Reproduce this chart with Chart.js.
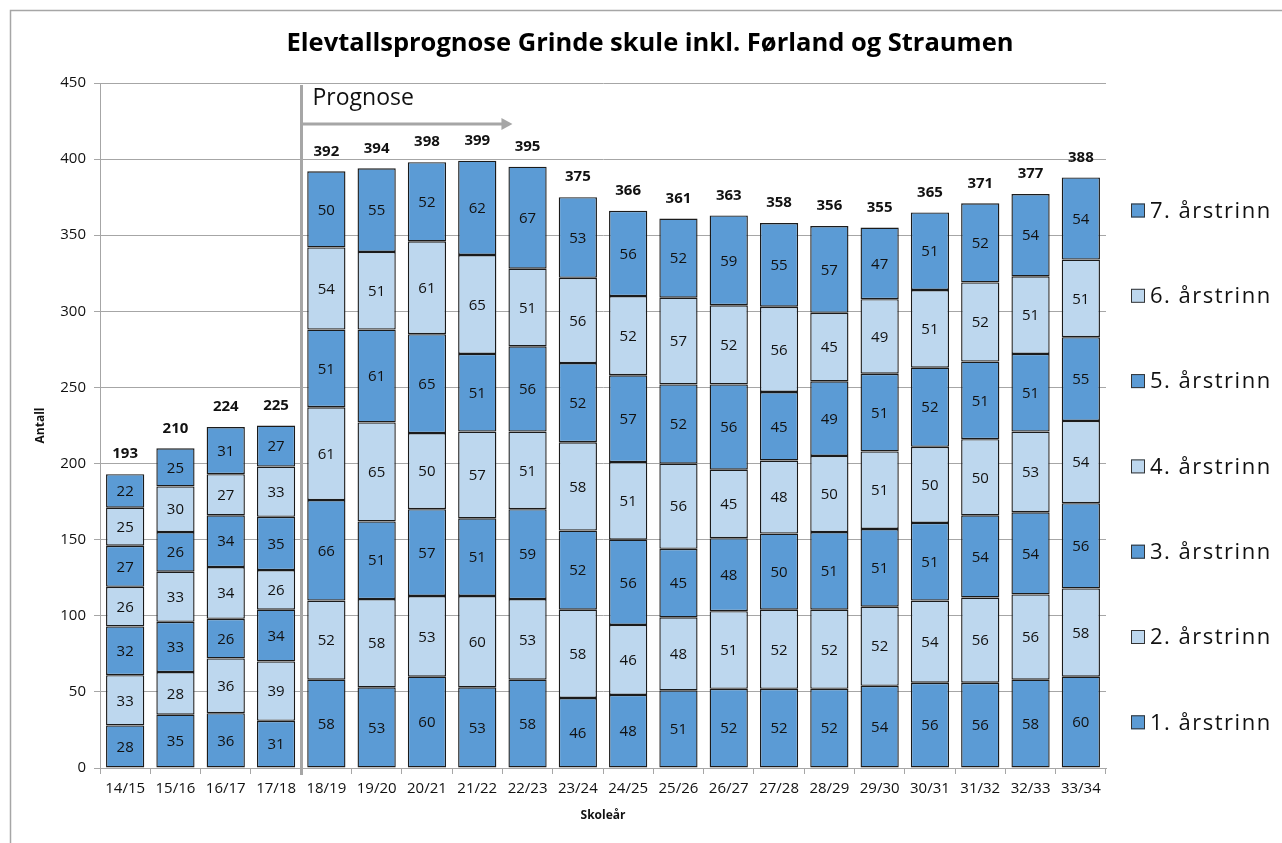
<!DOCTYPE html>
<html>
<head>
<meta charset="utf-8">
<script src="https://cdn.jsdelivr.net/npm/chart.js@4.4.1/dist/chart.umd.min.js"></script>
<style>
html,body{margin:0;padding:0;background:#fff;}
#wrap{width:1282px;height:843px;position:relative;}
</style>
</head>
<body>
<div id="wrap"><canvas id="c" width="1282" height="843"></canvas></div>
<script>
const categories = ['14/15','15/16','16/17','17/18','18/19','19/20','20/21','21/22','22/23','23/24','24/25','25/26','26/27','27/28','28/29','29/30','30/31','31/32','32/33','33/34'];
const trinn1 = [28,35,36,31,58,53,60,53,58,46,48,51,52,52,52,54,56,56,58,60];
const trinn2 = [33,28,36,39,52,58,53,60,53,58,46,48,51,52,52,52,54,56,56,58];
const trinn3 = [32,33,26,34,66,51,57,51,59,52,56,45,48,50,51,51,51,54,54,56];
const trinn4 = [26,33,34,26,61,65,50,57,51,58,51,56,45,48,50,51,50,50,53,54];
const trinn5 = [27,26,34,35,51,61,65,51,56,52,57,52,56,45,49,51,52,51,51,55];
const trinn6 = [25,30,27,33,54,51,61,65,51,56,52,57,52,56,45,49,51,52,51,51];
const trinn7 = [22,25,31,27,50,55,52,62,67,53,56,52,59,55,57,47,51,52,54,54];
const seriesNames = ['1. årstrinn','2. årstrinn','3. årstrinn','4. årstrinn','5. årstrinn','6. årstrinn','7. årstrinn'];
const yTicks = [0,50,100,150,200,250,300,350,400,450];
const prognoseStartIndex = 4; // first prognosis year: 18/19
const prognoseArrowEndIndex = 8; // arrow reaches towards 22/23

const DARK = '#5B9BD5', LIGHT = '#BDD7EE', EDGE = '#1b1b1b';
const FONT = "'Open Sans', Lato, 'Liberation Sans', sans-serif";
const seriesData = [trinn1,trinn2,trinn3,trinn4,trinn5,trinn6,trinn7];

const datasets = seriesData.map((d,i)=>({
  label: seriesNames[i],
  data: d,
  backgroundColor: i%2===0 ? DARK : LIGHT,
  borderColor: EDGE,
  borderWidth: 1.4,
  borderSkipped: false,
  barPercentage: 0.76,
  categoryPercentage: 1.0,
  stack: 's'
}));

const decorPlugin = {
  id: 'decor',
  beforeDraw(chart){
    const ctx = chart.ctx;
    ctx.save();
    ctx.fillStyle = '#fff';
    ctx.fillRect(0,0,chart.width,chart.height);
    ctx.strokeStyle = '#A6A6A6';
    ctx.lineWidth = 1.5;
    ctx.strokeRect(10.5,10.5,chart.width+20,chart.height+20);
    ctx.restore();
  },
  afterDatasetsDraw(chart){
    const ctx = chart.ctx;
    const n = chart.data.datasets.length;
    ctx.save();
    ctx.textAlign = 'center';
    ctx.textBaseline = 'middle';
    ctx.fillStyle = '#111';
    ctx.font = "15px " + FONT;
    for (let d=0; d<n; d++){
      const meta = chart.getDatasetMeta(d);
      meta.data.forEach((bar,i)=>{
        const v = chart.data.datasets[d].data[i];
        ctx.fillText(String(v), bar.x, (bar.y + bar.base)/2 + 1);
      });
    }
    // totals
    ctx.font = "bold 15px " + FONT;
    const top = chart.getDatasetMeta(n-1);
    top.data.forEach((bar,i)=>{
      let sum = 0;
      for (let d=0; d<n; d++) sum += chart.data.datasets[d].data[i];
      ctx.fillText(String(sum), bar.x, bar.y - 20);
    });
    ctx.restore();
  },
  afterDraw(chart){
    const ctx = chart.ctx;
    const xs = chart.scales.x, ys = chart.scales.y;
    const area = chart.chartArea;
    ctx.save();
    // Prognose divider
    const xDiv = Math.round(xs.getPixelForValue(prognoseStartIndex - 0.5)) + 0.5;
    ctx.strokeStyle = '#A6A6A6';
    ctx.lineWidth = 3;
    ctx.beginPath();
    ctx.moveTo(xDiv, area.top + 2);
    ctx.lineTo(xDiv, area.bottom + 7);
    ctx.stroke();
    // arrow
    const yA = ys.getPixelForValue(423);
    const xEnd = xs.getPixelForValue(prognoseArrowEndIndex - 0.3);
    ctx.lineWidth = 3;
    ctx.beginPath();
    ctx.moveTo(xDiv, yA);
    ctx.lineTo(xEnd - 10, yA);
    ctx.stroke();
    ctx.fillStyle = '#A6A6A6';
    ctx.beginPath();
    ctx.moveTo(xEnd, yA);
    ctx.lineTo(xEnd - 11, yA - 6);
    ctx.lineTo(xEnd - 11, yA + 6);
    ctx.closePath();
    ctx.fill();
    // text
    ctx.fillStyle = '#111';
    ctx.font = "23px " + FONT;
    ctx.textAlign = 'left';
    ctx.textBaseline = 'middle';
    ctx.fillText('Prognose', xDiv + 11, ys.getPixelForValue(440) );
    // custom legend (reversed order, as in reference)
    const ds = chart.data.datasets;
    const boxX = 1131;
    const firstY = 210.5, step = 85.3;
    ctx.font = "22px " + FONT;
    if ('letterSpacing' in ctx) ctx.letterSpacing = '1.5px';
    for (let k=0; k<ds.length; k++){
      const d = ds[ds.length-1-k];
      const cy = firstY + k*step;
      ctx.fillStyle = d.backgroundColor;
      ctx.fillRect(boxX, cy-7, 14, 14);
      ctx.strokeStyle = '#333';
      ctx.lineWidth = 1;
      ctx.strokeRect(boxX+0.5, cy-7+0.5, 13, 13);
      ctx.fillStyle = '#111';
      ctx.fillText(d.label, boxX + 19, cy + 1);
    }
    ctx.restore();
  }
};

new Chart(document.getElementById('c'), {
  type: 'bar',
  data: { labels: categories, datasets },
  options: {
    responsive: false,
    animation: false,
    devicePixelRatio: 1,
    layout: { padding: { left: 18, right: 0, top: 0, bottom: 0 } },
    plugins: {
      legend: { display: false },
      tooltip: { enabled: false },
      title: {
        display: true,
        text: 'Elevtallsprognose Grinde skule inkl. Førland og Straumen',
        color: '#000',
        font: { family: FONT, size: 25.5, weight: 'bold', lineHeight: 1.2 },
        padding: { top: 28, bottom: 24.4 }
      }
    },
    scales: {
      x: {
        stacked: true,
        grid: { display: true, drawOnChartArea: false, offset: true, color: '#A6A6A6', tickLength: 6, lineWidth: 1 },
        border: { display: true, color: '#A6A6A6', width: 1 },
        ticks: { color: '#111', font: { family: FONT, size: 15 }, padding: 6, maxRotation: 0, autoSkip: false },
        title: { display: true, text: 'Skoleår', color: '#111', font: { family: FONT, size: 12, weight: 'bold' }, padding: { top: 0, bottom: 20 } },
        afterFit(s){ s.height = 843 - 768; }
      },
      y: {
        stacked: true,
        min: 0, max: 450,
        afterBuildTicks(s){ s.ticks = yTicks.map(v=>({value:v})); },
        grid: { color: '#A6A6A6', tickLength: 6, lineWidth: 1 },
        border: { display: true, color: '#A6A6A6', width: 1 },
        ticks: { color: '#111', font: { family: FONT, size: 15 }, padding: 8 },
        title: { display: true, text: 'Antall', color: '#111', font: { family: FONT, size: 12, weight: 'bold' }, padding: { top: 15, bottom: 0 } },
        afterFit(s){ s.width = 82; }
      },
      yr: {
        position: 'right',
        display: true,
        grid: { display: false },
        border: { display: false },
        ticks: { display: false },
        afterFit(s){ s.width = 1282 - 1106; }
      }
    }
  },
  plugins: [decorPlugin]
});
</script>
</body>
</html>
